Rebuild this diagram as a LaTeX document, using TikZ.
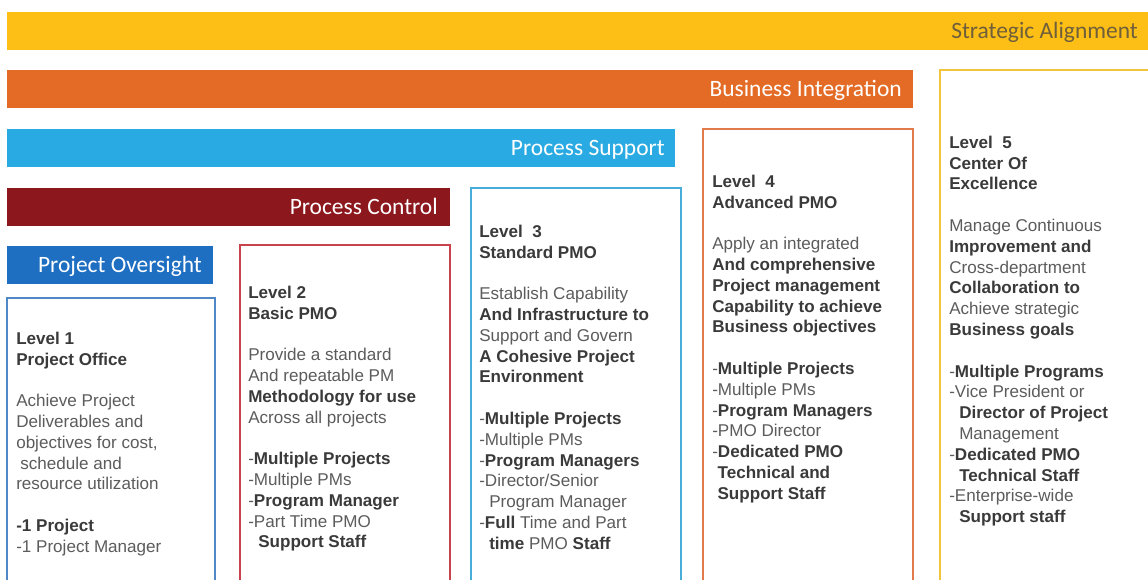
\documentclass[tikz,border=0pt]{standalone}
\usepackage{fontspec}
\setmainfont{Liberation Sans}
\newfontfamily\barfont{Carlito}
\usepackage{xcolor}
\definecolor{strategicbar}{HTML}{FDBE16}
\definecolor{strategictext}{HTML}{6F5F3A}
\definecolor{businessbar}{HTML}{E36B26}
\definecolor{supportbar}{HTML}{2AAAE2}
\definecolor{controlbar}{HTML}{8C171C}
\definecolor{oversightbar}{HTML}{1E6FC1}
\definecolor{levelonebox}{HTML}{4F87C7}
\definecolor{leveltwobox}{HTML}{C8434E}
\definecolor{levelthreebox}{HTML}{48ADD8}
\definecolor{levelfourbox}{HTML}{E17B4C}
\definecolor{levelfivebox}{HTML}{F2C53A}
\definecolor{plaingray}{HTML}{5C5C5C}
\definecolor{boldgray}{HTML}{3A3A3A}
\newcommand{\lvbold}[1]{\textcolor{boldgray}{\bfseries #1}}

\begin{document}
\begin{tikzpicture}[x=0.75pt,y=-0.75pt,
    bartext/.style={anchor=base east, inner sep=0pt, text=white, font=\barfont\fontsize{17.6}{20}\selectfont},
    leveltext/.style={anchor=north west, inner sep=0pt, align=left, text=plaingray, font=\fontsize{12.8}{15.6}\selectfont},
    levelbox/.style={line width=1.3pt}]
                \useasboundingbox (0,0) rectangle (1148,579);
                \clip (0,0) rectangle (1148,579);
                \fill[white] (0,0) rectangle (1148,579);

                \coordinate (SA) at (7,12);
                \coordinate (BI) at (7,70);
                \coordinate (PS) at (7,129);
                \coordinate (PC) at (7,188);
                \coordinate (PO) at (7,246);

                \fill[strategicbar] (SA) rectangle (1152,50);
                \fill[businessbar] (BI) rectangle (913,108);
                \fill[supportbar] (PS) rectangle (675,167);
                \fill[controlbar] (PC) rectangle (450,226);
                \fill[oversightbar] (PO) rectangle (213,284);

                \node [bartext, text=strategictext] (strategic) at (1138,38.5) {Strategic Alignment};
                \node [bartext] (business) at (902,96.5) {Business Integration};
                \node [bartext] (support) at (665,155.5) {Process Support};
                \node [bartext] (control) at (438,214.5) {Process Control};
                \node [bartext] (oversight) at (202,272.5) {Project Oversight};

                \draw[levelbox, levelonebox] (7,298) rectangle (215,600);
                \draw[levelbox, leveltwobox] (240,245) rectangle (450,600);
                \draw[levelbox, levelthreebox] (471,188) rectangle (681,600);
                \draw[levelbox, levelfourbox] (703,129) rectangle (913,600);
                \draw[levelbox, levelfivebox] (940,70) rectangle (1160,600);

                \node [leveltext] (levelone) at (16,331.6) {\lvbold{Level 1}\\
                    \lvbold{Project Office}\\[15.6pt]
                    Achieve Project\\
                    Deliverables and\\
                    objectives for cost,\\
                    \hspace*{3pt}schedule and\\
                    resource utilization\\[15.6pt]
                    \lvbold{-1 Project}\\
                    -1 Project Manager};

                \node [leveltext] (leveltwo) at (248,285.6) {\lvbold{Level 2}\\
                    \lvbold{Basic PMO}\\[15.6pt]
                    Provide a standard\\
                    And repeatable PM\\
                    \lvbold{Methodology for use}\\
                    Across all projects\\[15.6pt]
                    -\lvbold{Multiple Projects}\\
                    -Multiple PMs\\
                    -\lvbold{Program Manager}\\
                    -Part Time PMO\\
                    \hspace*{7.5pt}\lvbold{Support Staff}};

                \node [leveltext] (levelthree) at (479,224.6) {\lvbold{Level~ 3}\\
                    \lvbold{Standard PMO}\\[15.6pt]
                    Establish Capability\\
                    \lvbold{And Infrastructure to}\\
                    Support and Govern\\
                    \lvbold{A Cohesive Project}\\
                    \lvbold{Environment}\\[15.6pt]
                    -\lvbold{Multiple Projects}\\
                    -Multiple PMs\\
                    -\lvbold{Program Managers}\\
                    -Director/Senior\\
                    \hspace*{7.5pt}Program Manager\\
                    -\lvbold{Full} Time and Part\\
                    \hspace*{7.5pt}\lvbold{time} PMO \lvbold{Staff}};

                \node [leveltext] (levelfour) at (712,174.6) {\lvbold{Level~ 4}\\
                    \lvbold{Advanced PMO}\\[15.6pt]
                    Apply an integrated\\
                    \lvbold{And comprehensive}\\
                    \lvbold{Project management}\\
                    \lvbold{Capability to achieve}\\
                    \lvbold{Business objectives}\\[15.6pt]
                    -\lvbold{Multiple Projects}\\
                    -Multiple PMs\\
                    -\lvbold{Program Managers}\\
                    -PMO Director\\
                    -\lvbold{Dedicated PMO}\\
                    \hspace*{4pt}\lvbold{Technical and}\\
                    \hspace*{4pt}\lvbold{Support Staff}};

                \node [leveltext] (levelfive) at (949,135.6) {\lvbold{Level~ 5}\\
                    \lvbold{Center Of}\\
                    \lvbold{Excellence}\\[15.6pt]
                    Manage Continuous\\
                    \lvbold{Improvement and}\\
                    Cross-department\\
                    \lvbold{Collaboration to}\\
                    Achieve strategic\\
                    \lvbold{Business goals}\\[15.6pt]
                    -\lvbold{Multiple Programs}\\
                    -Vice President or\\
                    \hspace*{7.5pt}\lvbold{Director of Project}\\
                    \hspace*{7.5pt}Management\\
                    -\lvbold{Dedicated PMO}\\
                    \hspace*{7.5pt}\lvbold{Technical Staff}\\
                    -Enterprise-wide\\
                    \hspace*{7.5pt}\lvbold{Support staff}};

                \end{tikzpicture}
\end{document}
